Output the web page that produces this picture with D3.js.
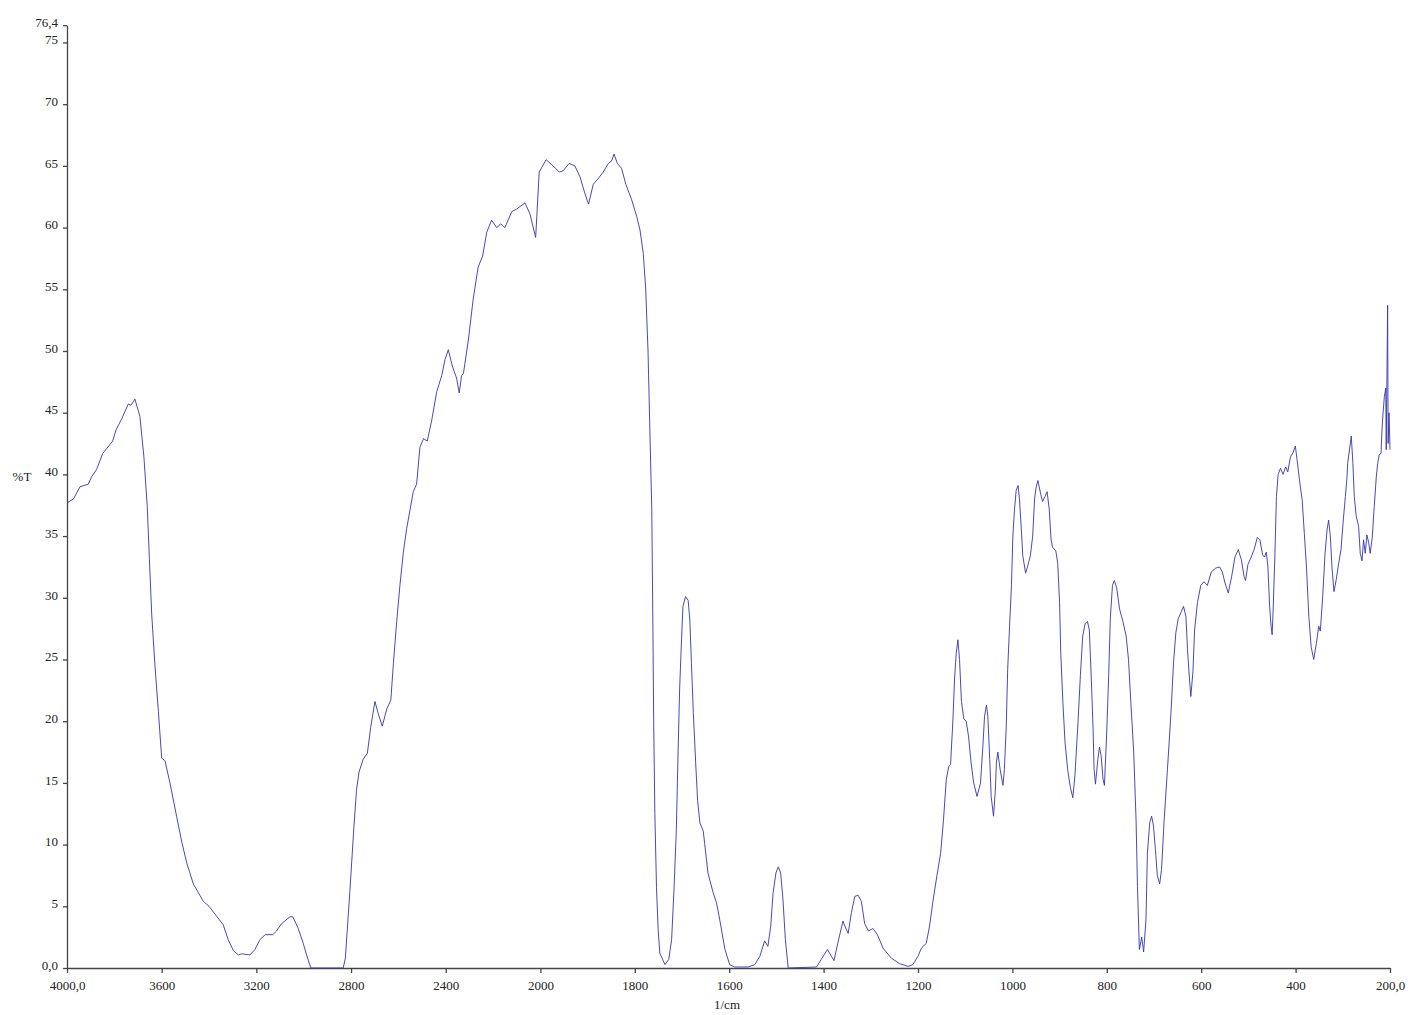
<!DOCTYPE html>
<html>
	<head>
		<title>IR spectrum</title>
		<style type="text/css">
			body {
				margin: 0px;
				background-color: #fff;
			}
			text {
				font-family: "Liberation Serif", "Times New Roman", serif;
				fill: #222;
			}
		</style>
		<script src="https://d3js.org/d3.v7.min.js" charset="utf-8"></script>
	</head>
	<body>
		<script type="text/javascript">
			// wavenumber (1/cm), %T
			var band4000to2800 = [
				[4000, 37.7], [3973, 38.0], [3945, 39.0], [3928, 39.1], [3910, 39.2], [3896, 39.8],
				[3875, 40.4], [3849, 41.7], [3832, 42.1], [3807, 42.7], [3793, 43.6], [3769, 44.5],
				[3741, 45.7], [3730, 45.6], [3713, 46.1], [3692, 44.7], [3675, 41.4], [3661, 37.4],
				[3652, 33.2], [3642, 28.6], [3628, 24.4], [3614, 20.8], [3600, 17.0], [3586, 16.8],
				[3565, 15.0], [3537, 12.3], [3515, 10.2], [3494, 8.5], [3466, 6.8], [3445, 6.1],
				[3424, 5.4], [3400, 5.0], [3368, 4.2], [3340, 3.5], [3319, 2.3], [3297, 1.4],
				[3276, 1.06], [3262, 1.15], [3227, 1.06], [3206, 1.5], [3185, 2.3], [3163, 2.7],
				[3131, 2.7], [3115, 3.0], [3093, 3.6], [3058, 4.15], [3046, 4.15], [3023, 3.2],
				[3002, 2.0], [2990, 1.2], [2970, 0], [2833, 0], [2824, 0.8]
			];
			var band2800to1750 = [
				[2805, 6.2], [2788, 11.4], [2777, 14.4], [2766, 15.9], [2749, 16.9], [2731, 17.4],
				[2717, 19.5], [2699, 21.6], [2685, 20.6], [2668, 19.6], [2649, 21.0], [2632, 21.7],
				[2621, 24.7], [2607, 28.1], [2593, 31.1], [2579, 33.7], [2565, 35.6], [2551, 37.1],
				[2537, 38.6], [2523, 39.2], [2509, 42.2], [2494, 42.9], [2478, 42.7], [2459, 44.4],
				[2438, 46.7], [2417, 48.0], [2403, 49.3], [2389, 50.1], [2371, 48.7], [2354, 47.8],
				[2343, 46.6], [2333, 48.0], [2325, 48.2], [2305, 50.8], [2284, 54.2], [2263, 56.8],
				[2244, 57.7], [2227, 59.6], [2206, 60.6], [2185, 60.0], [2167, 60.3], [2150, 60.0],
				[2121, 61.3], [2100, 61.5], [2065, 62.0], [2044, 61.1], [2020, 59.2], [2005, 64.5],
				[1988, 65.5], [1973, 65.0], [1960, 64.5], [1952, 64.6], [1939, 65.2], [1927, 65.0],
				[1916, 64.1], [1906, 62.8], [1898, 61.9], [1888, 63.5], [1877, 64.0], [1867, 64.5],
				[1856, 65.2], [1849, 65.4], [1844, 65.95], [1837, 65.2], [1828, 64.8], [1819, 63.5],
				[1807, 62.3], [1796, 60.9], [1789, 59.8], [1782, 57.9], [1777, 55.1], [1772, 50.0],
				[1768, 43.5], [1764, 37.1], [1762, 29.0], [1760, 20.0], [1757.5, 12.5], [1754, 6.5]
			];
			var band1750to1100 = [
				[1750.5, 3.1], [1747, 1.2], [1736, 0.27], [1728, 0.7], [1722, 2.3], [1717, 6.3],
				[1712, 11.2], [1708, 18.0], [1705, 22.6], [1701, 26.6], [1698, 29.3], [1692.5, 30.1],
				[1687, 29.8], [1683.4, 28.2], [1680, 24.7], [1676, 20.7], [1671, 16.6], [1667, 13.6],
				[1662, 11.75], [1655, 11.1], [1652, 10.1], [1645, 7.7], [1634, 6.1], [1627, 5.3],
				[1620, 3.9], [1609, 1.5], [1599, 0.27], [1588, 0.08], [1560, 0.08], [1546, 0.27],
				[1535, 0.95], [1525, 2.2], [1518, 1.75], [1512, 3.4], [1507, 6.1], [1501, 7.7],
				[1496, 8.2], [1491, 7.7], [1486, 5.5], [1481, 2.3], [1475, 0], [1415, 0.08],
				[1405, 0.7], [1392, 1.5], [1383.5, 0.95], [1378, 0.6], [1370, 2.0], [1359, 3.8],
				[1355, 3.4], [1348, 2.8], [1341, 4.5], [1334, 5.8], [1327, 5.9], [1320, 5.4],
				[1313, 3.6], [1305, 3.0], [1295.5, 3.2], [1286, 2.7], [1274, 1.6], [1256.5, 0.8],
				[1239, 0.35], [1221, 0.13], [1211, 0.27], [1200, 0.95], [1193, 1.6], [1182.5, 2.0],
				[1175.5, 3.4], [1168, 5.5], [1159, 7.7], [1152, 9.3], [1146, 12.0], [1140, 15.3],
				[1135, 16.3], [1131, 16.5], [1126, 20.1], [1122.5, 23.5], [1119, 25.5], [1115.5, 26.6],
				[1112, 25.0], [1108, 21.6], [1103, 20.2]
			];
			var band1100to600 = [
				[1098, 20.0], [1093, 18.8], [1087.5, 16.6], [1082, 15.0], [1075, 13.9], [1067.5, 15.0],
				[1062.5, 18.0], [1059, 20.4], [1055, 21.3], [1052, 20.4], [1048, 16.9], [1045, 13.9],
				[1040, 12.3], [1036, 14.5], [1034, 16.6], [1031, 17.5], [1026, 16.1], [1020, 14.8],
				[1017, 16.1], [1013, 19.6], [1010, 24.2], [1006, 27.7], [1002, 31.0], [999, 35.0],
				[995.5, 37.2], [992, 38.7], [988, 39.1], [985, 38.0], [981, 35.5], [978, 33.4],
				[972, 32.0], [967.4, 32.6], [962, 33.4], [957, 35.0], [953, 38.0], [950, 38.9],
				[946, 39.5], [940, 38.4], [936, 37.8], [931, 38.2], [926.5, 38.6], [922, 37.2],
				[918, 34.7], [915, 34.1], [908, 33.8], [904, 32.8], [900, 29.6], [897.6, 25.6],
				[893, 21.5], [888.5, 18.3], [883, 16.1], [877, 14.6], [872, 13.8], [867.5, 15.6],
				[861, 19.9], [856, 23.7], [851, 26.9], [846, 27.9], [841, 28.1], [837, 27.4],
				[832.5, 23.1], [829, 19.3], [827, 16.1], [824, 14.9], [819, 16.9], [815.5, 17.9],
				[812, 17.2], [808, 15.3], [805, 14.8], [800.5, 18.8], [796, 23.7], [792.6, 28.3],
				[788, 31.0], [784, 31.4], [779, 30.8], [773, 29.1], [766, 28.1], [759, 26.9],
				[754, 25.0], [749, 21.5], [743, 17.5], [738, 12.0], [735, 6.6], [731, 1.5],
				[726, 2.5], [722, 1.3], [717, 3.9], [714, 9.3], [709, 11.8], [705, 12.3],
				[701, 11.5], [696, 9.1], [693, 7.5], [688, 6.8], [684, 8.0], [678.5, 12.0],
				[671.5, 16.1], [664, 20.7], [658.7, 24.7], [653.6, 27.2], [648.7, 28.3], [643, 28.8],
				[637.5, 29.3], [632.4, 28.5], [629, 25.8], [625, 23.5], [622, 22.0], [617.5, 24.0],
				[614, 27.4], [608, 29.6], [601, 31.0]
			];
			var band600to200 = [
				[594, 31.3], [587, 31.0], [578.6, 32.1], [569.5, 32.4], [561, 32.5], [555.3, 32.1],
				[549.6, 31.2], [542.6, 30.4], [535.6, 31.7], [528.5, 33.3], [521.5, 33.9], [515, 33.1],
				[509, 31.7], [506, 31.4], [501, 32.7], [494, 33.3], [488, 33.9], [481, 34.9],
				[475.6, 34.7], [470, 33.5], [466, 33.3], [462, 33.7], [458.7, 32.5], [455, 29.3],
				[452, 27.7], [449.7, 27.0], [447.6, 29.0], [444, 33.3], [440.6, 38.2], [437, 40.0],
				[432, 40.5], [426.6, 40.0], [421, 40.6], [416.6, 40.2], [411, 41.4], [405, 41.8],
				[400.5, 42.3], [397, 41.2], [391, 39.3], [386, 37.9], [381.5, 35.2], [377, 32.5],
				[372, 28.5], [367, 26.0], [361.6, 25.0], [356, 26.3], [351, 27.7], [347.6, 27.3],
				[342.6, 30.1], [337.6, 33.6], [333.4, 35.5], [330, 36.3], [326.4, 35.0], [323, 32.5],
				[318.7, 30.5], [313.8, 31.5], [308.7, 32.8], [303.8, 33.9], [299.6, 36.0], [294.6, 38.2],
				[291, 39.8], [289.7, 40.9], [282, 43.1], [278.6, 40.9], [275.7, 38.2], [271.5, 36.6],
				[266.5, 35.8], [263, 33.6], [259.3, 33.0], [256, 34.7], [252.4, 33.6], [249, 35.1],
				[245.3, 34.5], [242, 33.6], [237.6, 34.9], [233.4, 37.4], [229, 39.8], [226, 40.9],
				[222.8, 41.6], [219, 41.7], [217, 43.6], [215, 44.8], [212, 46.3], [209, 47.0],
				[208, 42.0], [205, 53.7], [204, 42.5], [202, 45.0], [200, 42.0]
			];
			var spectrum = band4000to2800.concat(band2800to1750, band1750to1100, band1100to600, band600to200);

			var xTicks = [4000, 3600, 3200, 2800, 2400, 2000, 1800, 1600, 1400, 1200, 1000, 800, 600, 400, 200];
			var xTickLabels = ["4000,0", "3600", "3200", "2800", "2400", "2000", "1800", "1600", "1400", "1200", "1000", "800", "600", "400", "200,0"];
			var yTicks = [0, 5, 10, 15, 20, 25, 30, 35, 40, 45, 50, 55, 60, 65, 70, 75, 76.4];
			var yTickLabels = ["0,0", "5", "10", "15", "20", "25", "30", "35", "40", "45", "50", "55", "60", "65", "70", "75", "76,4"];

			var width = 1408, height = 1015;
			var svg = d3.select("body").append("svg")
				.attr("width", width)
				.attr("height", height);

			// the instrument plots 4000-2000 at half the scale of 2000-200
			var x = d3.scaleLinear()
				.domain([4000, 2000, 200])
				.range([67, 540.4, 1390]);
			var y = d3.scaleLinear()
				.domain([0, 76.4])
				.range([968, 25.2]);

			var xAxis = svg.append("g")
				.attr("transform", "translate(0," + y(0) + ")")
				.call(d3.axisBottom(x)
					.tickValues(xTicks)
					.tickFormat(function(d, i) { return xTickLabels[i]; })
					.tickSize(5)
					.tickSizeOuter(0)
					.tickPadding(8));
			var yAxis = svg.append("g")
				.attr("transform", "translate(" + x(4000) + ",0)")
				.call(d3.axisLeft(y)
					.tickValues(yTicks)
					.tickFormat(function(d, i) { return yTickLabels[i]; })
					.tickSize(4)
					.tickSizeOuter(0)
					.tickPadding(5));

			svg.selectAll(".domain, .tick line")
				.attr("stroke", "#444")
				.attr("stroke-width", 1.3);
			svg.selectAll(".tick text")
				.attr("font-family", "Liberation Serif, serif")
				.attr("font-size", 13)
				.attr("fill", "#222");
			yAxis.selectAll(".tick text").attr("dy", "0.1em");

			svg.append("path")
				.datum(spectrum)
				.attr("fill", "none")
				.attr("stroke", "#3434b0")
				.attr("stroke-width", 0.9)
				.attr("stroke-linejoin", "round")
				.attr("d", d3.line()
					.x(function(d) { return x(d[0]); })
					.y(function(d) { return y(d[1]); }));

			svg.append("text")
				.attr("x", 22)
				.attr("y", 481)
				.attr("text-anchor", "middle")
				.attr("font-size", 13)
				.text("%T");
			svg.append("text")
				.attr("x", 727)
				.attr("y", 1009)
				.attr("text-anchor", "middle")
				.attr("font-size", 13)
				.text("1/cm");
		</script>
	</body>
</html>
